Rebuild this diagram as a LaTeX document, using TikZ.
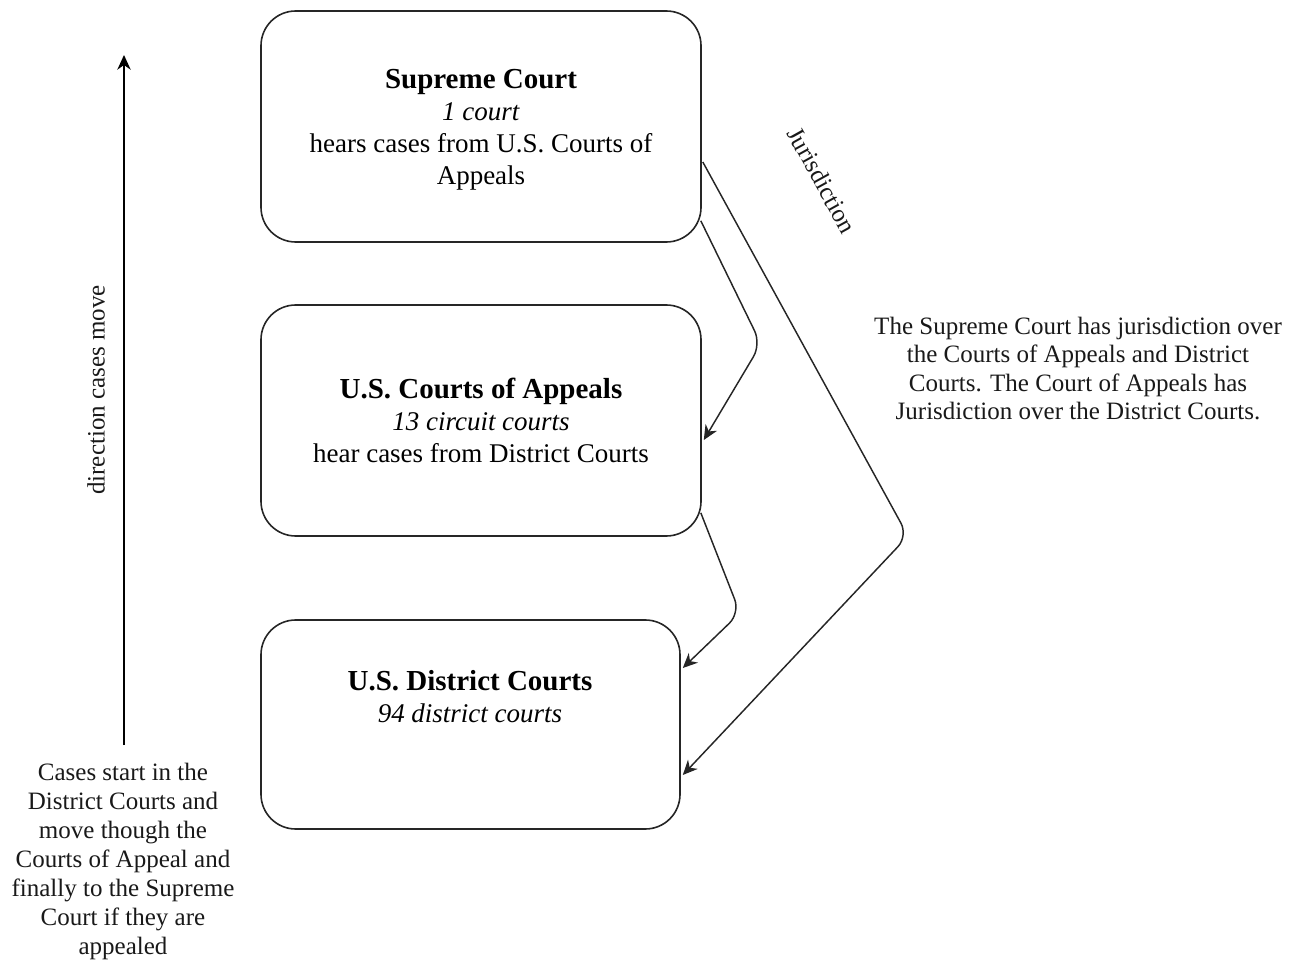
\documentclass[tikz,border=0pt]{standalone}
\usepackage{fontspec}
\setmainfont{Liberation Serif}
\usetikzlibrary{arrows.meta,calc}
\newcommand\courttitle[1]{{\bfseries\fontsize{21.75}{24}\selectfont #1}}
\begin{document}
\begin{tikzpicture}[x=0.75pt,y=-0.75pt,
  box/.style={draw=black!85, line width=1.2pt, rounded corners=26pt, minimum width=330pt, minimum height=173.25pt, inner sep=0pt, align=center, font=\fontsize{20.25}{24}\selectfont},
  tip/.style={-{Stealth[length=11pt,width=10pt,inset=3.5pt]}},
  conn/.style={draw=black!85, line width=1.1pt, rounded corners=11pt, tip},
  side/.style={align=center, font=\fontsize{18.75}{21.75}\selectfont, inner sep=0pt, text=black!90}]
\useasboundingbox (0,0) rectangle (1296,966);
% boxes
\node[box, text depth=-4pt] (sc) at (481,126.5) {\courttitle{Supreme Court}\\ \textit{1 court}\\ hears cases from U.S. Courts of\\ Appeals};
\node[box] (ca) at (481,420.5) {\courttitle{U.S. Courts of Appeals}\\ \textit{13 circuit courts}\\ hear cases from District Courts};
\node[box, minimum width=314.25pt, minimum height=156.75pt] (dc) at (470.5,724.5) {};
\node[align=center, font=\fontsize{20.25}{24}\selectfont, inner sep=0pt] (dct) at (470,696.5) {\courttitle{U.S. District Courts}\\ \textit{94 district courts}};
% bends
\coordinate (b1) at (761,344);
\coordinate (b2) at (908,536);
\coordinate (b3) at (740,613);
% connectors
\draw[conn] ($(sc.south east)+(-1,-22)$) -- (b1) -- ($(ca.east)+(2,19.5)$);
\draw[conn] ($(sc.east)+(1,35.5)$) -- (b2) -- ($(dc.east)+(2,50.5)$);
\draw[conn] ($(ca.south east)+(-1,-24)$) -- (b3) -- ($(dc.east)+(2,-56.5)$);
% labels
\node[side, rotate=-61] (jur) at (822,180) {Jurisdiction};
\node[side, font=\fontsize{18.75}{21.4}\selectfont] (note) at (1078,368.5) {The Supreme Court has jurisdiction over\\ the Courts of Appeals and District\\ Courts. The Court of Appeals has\\ Jurisdiction over the District Courts.};
\node[side] (cases) at (123,861) {Cases start in the\\ District Courts and\\ move though the\\ Courts of Appeal and\\ finally to the Supreme\\ Court if they are\\ appealed};
% direction arrow
\coordinate (dtop) at (124,55);
\coordinate (dbot) at (124,745);
\draw[draw=black, line width=1.2pt, tip] (dbot) -- (dtop);
\node[side, rotate=90] (dir) at (96,390) {direction cases move};
\end{tikzpicture}
\end{document}
